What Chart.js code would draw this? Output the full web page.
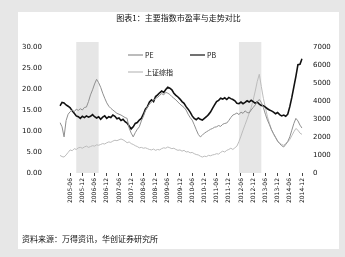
<!DOCTYPE html>
<html lang="zh">
<head>
<meta charset="UTF-8">
<title>市盈率走势</title>
<script src="https://cdn.jsdelivr.net/npm/chart.js"></script>
<style>
  body { margin: 0; background: #e7e7e7; font-family: "Noto Sans CJK SC", "Noto Sans", sans-serif; }
  #panel { position: absolute; left: 18px; top: 12px; width: 321px; height: 237px; background: #fff; }
  #title { position: absolute; left: 0; width: 321px; top: 0px; text-align: center; font-size: 8px; color: #111; }
  #source { position: absolute; left: 4px; top: 221px; font-size: 8px; color: #111; }
  #wrap { position: absolute; left: 0; top: 0; width: 321px; height: 237px; }
</style>
</head>
<body>
<div id="panel">
  <div id="wrap"><canvas id="peChart"></canvas></div>
  <div id="title">图表1：主要指数市盈率与走势对比</div>
  <div id="source">资料来源：万得资讯，华创证券研究所</div>
</div>
<script>
// 月度数据 2005-01 ~ 2014-12
const labels = [];
for (let y = 2005; y <= 2014; y++) {
  for (let m = 1; m <= 12; m++) labels.push(y + '-' + String(m).padStart(2, '0'));
}

const seriesNames = ['PE', 'PB', '上证综指'];

const peA = [12.0,11.0,8.6,12.5,14.0,14.6,15.0,14.6,15.2,14.9,15.3,15.0,15.6,15.7,17.0,18.6,19.8,21.2,22.3,21.5,
  20.4,19.0,17.8,16.7,15.9,15.4,15.0,14.6,14.2,14.0,13.8,13.5,13.2,13.0,10.7,9.5,8.6,9.6,10.4,11.0,
  12.4,13.5,14.8,15.7,16.4,16.9,17.3,17.8,18.0,18.5,18.9,18.6,19.2,19.0,18.7,18.2,17.8,17.4,16.9,16.4,
  16.0,15.6,15.0,14.0,13.2,12.6,11.5,10.3,9.2,8.6,9.0,9.5,9.8,10.1,10.4,10.6,10.9,11.0,11.3,11.1,
  11.6,11.8,11.9,12.5,13.2,13.8,14.0,14.3,13.9,14.5,14.2,14.8,14.4,14.3,15.0,15.6,16.2,17.0,17.5,16.8,
  15.6,14.0,12.6,11.5,10.3,9.4,8.5,7.6,7.0,6.5,6.2,6.8,7.5,8.6,10.2,11.8,13.0,12.4,11.4,10.7];

const peB = [16.0,16.8,16.7,16.2,15.9,15.5,14.8,14.2,13.6,13.4,13.0,13.5,13.2,13.6,13.3,13.5,13.9,13.4,13.1,13.4,
  12.8,13.3,13.6,13.0,13.4,13.2,13.8,13.5,12.9,13.1,12.5,12.8,12.2,11.9,11.2,10.5,11.0,11.8,12.0,12.6,
  13.0,14.0,15.2,15.8,16.9,17.4,17.0,18.2,18.6,19.1,19.5,19.2,19.9,20.4,20.2,19.8,19.0,18.5,18.1,17.6,
  17.0,16.6,15.8,15.2,14.5,13.6,13.0,12.7,13.1,12.8,12.6,13.0,13.4,13.9,14.5,15.4,16.2,17.0,17.3,17.8,
  17.6,17.9,17.5,18.0,17.7,17.5,17.2,16.6,16.5,16.9,16.5,16.8,17.2,16.9,17.3,17.0,16.6,16.9,16.4,16.1,
  16.0,15.7,15.3,15.0,14.8,14.5,14.1,14.4,13.9,13.6,13.8,13.5,14.0,15.8,18.0,20.5,23.0,25.8,25.9,27.2];

const peC = [4.2,3.9,3.8,4.3,4.9,5.5,5.3,5.8,5.6,6.0,6.1,5.9,6.2,6.4,6.1,6.3,6.5,6.4,6.7,6.6,
  6.8,7.0,6.9,7.2,7.4,7.3,7.6,7.8,7.7,7.9,8.1,7.9,7.6,7.2,7.4,7.0,6.8,6.5,6.3,6.0,
  6.1,5.9,6.0,5.8,5.6,5.5,5.7,5.4,5.6,5.5,5.8,6.0,5.9,6.2,6.0,5.8,5.9,5.6,5.4,5.5,
  5.2,5.4,5.0,5.1,4.8,4.9,4.6,4.4,4.3,4.0,3.8,4.0,3.9,4.2,4.1,4.3,4.4,4.6,4.5,4.9,
  5.2,5.0,5.4,5.6,5.9,5.6,6.0,6.4,7.5,8.8,10.2,11.5,12.8,14.2,15.6,17.4,19.5,21.8,23.5,20.6,
  17.8,15.6,13.4,11.8,10.3,9.2,8.4,7.6,7.1,6.8,6.6,7.0,7.4,8.0,8.9,9.8,10.6,10.2,9.5,9.2];

// 阴影区间（起止月份索引）
const shadeRanges = [[8, 19], [88, 99]];

const leftTicks = [0, 5, 10, 15, 20, 25, 30];
const rightTicks = [0, 1000, 2000, 3000, 4000, 5000, 6000, 7000];

const colors = ['#8f8f8f', '#111111', '#bcbcbc'];

const shadePlugin = {
  id: 'shade',
  beforeDatasetsDraw(chart) {
    const { ctx, chartArea } = chart;
    const x = chart.scales.x;
    ctx.save();
    ctx.fillStyle = '#e6e6e6';
    shadeRanges.forEach(([a, b]) => {
      const x0 = x.getPixelForValue(a), x1 = x.getPixelForValue(b);
      ctx.fillRect(x0, chartArea.top - 5, x1 - x0, chartArea.bottom - chartArea.top + 5);
    });
    ctx.restore();
  }
};

const legendPlugin = {
  id: 'innerLegend',
  afterDraw(chart) {
    const { ctx } = chart;
    const spots = [[110, 43], [172, 43], [110, 60]];
    ctx.save();
    ctx.font = '7px "Noto Sans CJK SC"';
    ctx.textBaseline = 'middle';
    seriesNames.forEach((name, i) => {
      const [lx, ly] = spots[i];
      ctx.strokeStyle = colors[i];
      ctx.lineWidth = 1.2;
      ctx.beginPath(); ctx.moveTo(lx, ly); ctx.lineTo(lx + 15, ly); ctx.stroke();
      ctx.fillStyle = '#111';
      ctx.fillText(name, lx + 17, ly);
    });
    ctx.restore();
  }
};

new Chart(document.getElementById('peChart'), {
  type: 'line',
  data: {
    labels: labels,
    datasets: [
      { label: seriesNames[0], data: peA, borderColor: colors[0], borderWidth: 1, pointRadius: 0, yAxisID: 'y' },
      { label: seriesNames[1], data: peB, borderColor: colors[1], borderWidth: 1.6, pointRadius: 0, yAxisID: 'y' },
      { label: seriesNames[2], data: peC, borderColor: colors[2], borderWidth: 1, pointRadius: 0, yAxisID: 'y' }
    ]
  },
  options: {
    responsive: true,
    maintainAspectRatio: false,
    animation: false,
    layout: { padding: { top: 35, bottom: 36, left: 0, right: 0 } },
    plugins: { legend: { display: false }, tooltip: { enabled: false } },
    scales: {
      x: {
        grid: { display: true, drawOnChartArea: false, drawTicks: true, tickLength: 3, color: '#444' },
        border: { display: false },
        afterFit(s) { s.height = 40; },
        ticks: {
          autoSkip: false, minRotation: 90, maxRotation: 90, padding: 2,
          font: { size: 6, family: 'DejaVu Sans' }, color: '#111',
          callback: (v, i) => (i % 6 === 5 ? labels[i] : null)
        }
      },
      y: {
        position: 'left', min: 0, max: 30,
        afterFit(s) { s.width = 42; },
        afterBuildTicks(s) { s.ticks = leftTicks.map(v => ({ value: v })); },
        grid: { display: false }, border: { display: false },
        ticks: { padding: 10, font: { size: 7, family: 'DejaVu Sans' }, color: '#111', callback: v => v.toFixed(2) }
      },
      y1: {
        position: 'right', min: 0, max: 7000,
        afterFit(s) { s.width = 37; },
        afterBuildTicks(s) { s.ticks = rightTicks.map(v => ({ value: v })); },
        grid: { display: false }, border: { display: false },
        ticks: { padding: 3, font: { size: 7, family: 'DejaVu Sans' }, color: '#111', callback: v => String(v) }
      }
    }
  },
  plugins: [shadePlugin, legendPlugin]
});
</script>
</body>
</html>
